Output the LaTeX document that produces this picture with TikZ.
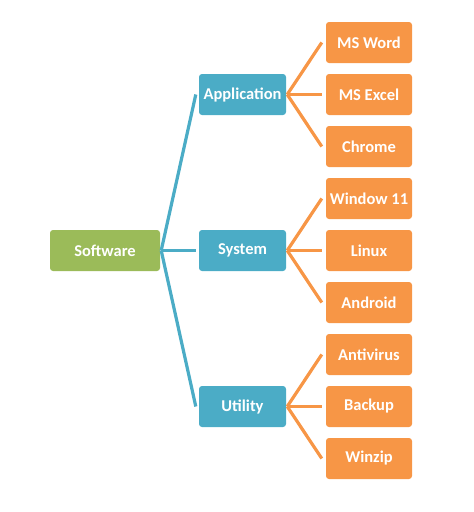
\documentclass[tikz,border=0pt]{standalone}
\usepackage{fontspec}
\setmainfont{Carlito}
\definecolor{gr}{HTML}{9BBB59}
\definecolor{bl}{HTML}{4BACC6}
\definecolor{orn}{HTML}{F79646}
\begin{document}
\begin{tikzpicture}[x=1pt,y=-1pt,
  box/.style={rounded corners=3pt,text=white,font=\fontsize{16.5}{19}\selectfont\bfseries,minimum height=41pt,inner sep=0pt},
  rootbox/.style={box,fill=gr,minimum width=110pt},
  midbox/.style={box,fill=bl,minimum width=87pt},
  leafbox/.style={box,fill=orn,minimum width=86pt},
  bline/.style={draw=bl,line width=3.2pt},
  oline/.style={draw=orn,line width=3.2pt}]
\useasboundingbox (0,0) rectangle (474,512);
\node[rootbox] (sw) at (105,250.5) {Software};
\node[midbox] (app) at (242.5,94.5) {Application};
\node[midbox] (sys) at (242.5,250.5) {System};
\node[midbox] (uti) at (242.5,406.5) {Utility};
\node[leafbox] (l1) at (369,42.5) {MS Word};
\node[leafbox] (l2) at (369,94.5) {MS Excel};
\node[leafbox] (l3) at (369,146.5) {Chrome};
\node[leafbox] (l4) at (369,198.5) {Window 11};
\node[leafbox] (l5) at (369,250.5) {Linux};
\node[leafbox] (l6) at (369,302.5) {Android};
\node[leafbox] (l7) at (369,354.5) {Antivirus};
\node[leafbox] (l8) at (369,406.5) {Backup};
\node[leafbox] (l9) at (369,458.5) {Winzip};
\foreach \m in {app,sys,uti}
  \draw[bline] ([xshift=1pt]sw.east) -- ([xshift=-3pt]\m.west);
\foreach \m/\a/\b/\c in {app/l1/l2/l3,sys/l4/l5/l6,uti/l7/l8/l9}{
  \draw[oline] ([xshift=1pt]\m.east) -- ([xshift=-4pt]\a.west);
  \draw[oline] ([xshift=1pt]\m.east) -- ([xshift=-4pt]\b.west);
  \draw[oline] ([xshift=1pt]\m.east) -- ([xshift=-4pt]\c.west);
}
\end{tikzpicture}
\end{document}
